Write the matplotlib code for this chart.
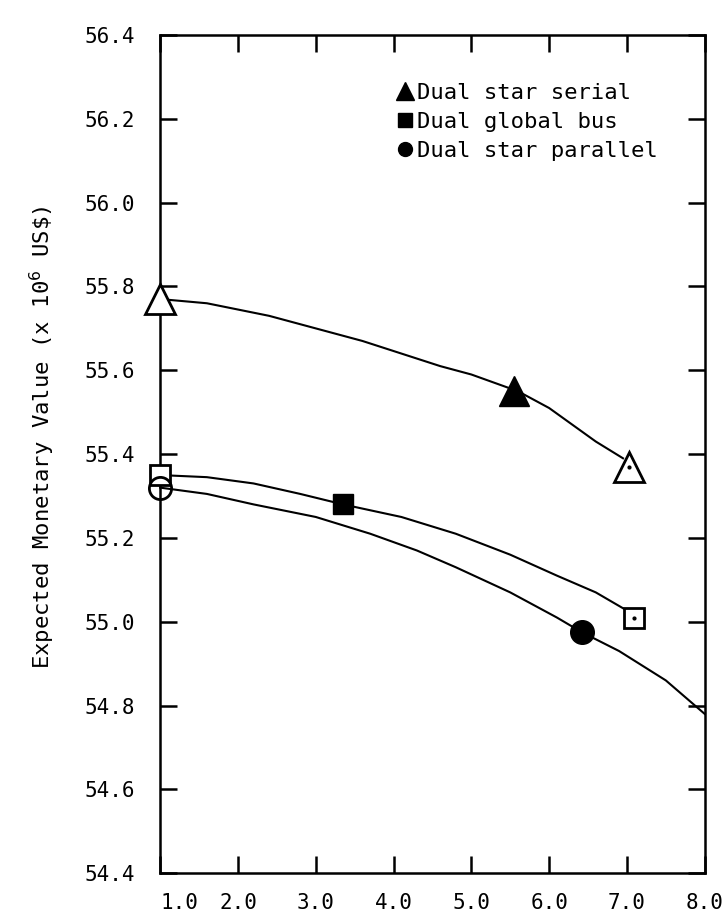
import matplotlib.pyplot as plt
from matplotlib.lines import Line2D

# values
x_ticks = [1.0, 2.0, 3.0, 4.0, 5.0, 6.0, 7.0, 8.0]
x_labels = ["1.0", "2.0", "3.0", "4.0", "5.0", "6.0", "7.0", "8.0"]
y_ticks = [54.4, 54.6, 54.8, 55.0, 55.2, 55.4, 55.6, 55.8, 56.0, 56.2, 56.4]

# smooth curves
serial_curve_x = [1.0, 1.6, 2.4, 3.0, 3.6, 4.1, 4.6, 5.0, 5.6, 6.0, 6.3, 6.6, 6.95]
serial_curve_y = [55.77, 55.76, 55.73, 55.70, 55.67, 55.64, 55.61, 55.59, 55.55, 55.51, 55.47, 55.43, 55.39]
bus_curve_x = [1.0, 1.6, 2.2, 2.8, 3.35, 4.1, 4.8, 5.5, 6.1, 6.6, 6.97]
bus_curve_y = [55.35, 55.345, 55.33, 55.305, 55.28, 55.25, 55.21, 55.16, 55.11, 55.07, 55.03]
parallel_curve_x = [1.0, 1.6, 2.2, 3.0, 3.7, 4.3, 4.8, 5.5, 6.1, 6.42, 6.9, 7.5, 8.0]
parallel_curve_y = [55.32, 55.305, 55.28, 55.25, 55.21, 55.17, 55.13, 55.07, 55.01, 54.975, 54.93, 54.86, 54.78]

# marker points: (x, y) for open / filled / dotted markers
serial_open = (1.0, 55.77)
serial_filled = (5.55, 55.55)
serial_dot = (7.03, 55.37)
bus_open = (1.0, 55.35)
bus_filled = (3.35, 55.28)
bus_dot = (7.09, 55.01)
parallel_open = (1.0, 55.32)
parallel_filled = (6.42, 54.975)

legend_labels = ["Dual star serial", "Dual global bus", "Dual star parallel"]

plt.rcParams['font.family'] = ['DejaVu Sans Mono', 'DejaVu Sans']

fig = plt.figure(figsize=(7.25, 9.23), dpi=100)
ax = fig.add_axes([0.221, 0.054, 0.751, 0.908])

lw = 1.5
ax.plot(serial_curve_x, serial_curve_y, color='black', lw=lw, clip_on=False)
ax.plot(bus_curve_x, bus_curve_y, color='black', lw=lw, clip_on=False)
ax.plot(parallel_curve_x, parallel_curve_y, color='black', lw=lw, clip_on=False)

mk = dict(color='black', clip_on=False, zorder=5, linestyle='none')
# open markers on the left spine
ax.plot(*serial_open, marker='^', ms=22, mfc='white', mew=2, **mk)
ax.plot(*bus_open, marker='s', ms=15, mfc='white', mew=2, **mk)
ax.plot(*parallel_open, marker='o', ms=16, mfc='none', mew=2, **mk)
# filled markers
ax.plot(*serial_filled, marker='^', ms=22, mfc='black', **mk)
ax.plot(*bus_filled, marker='s', ms=15, mfc='black', **mk)
ax.plot(*parallel_filled, marker='o', ms=17, mfc='black', **mk)
# open markers with a dot in the middle
ax.plot(*serial_dot, marker='^', ms=22, mfc='white', mew=2, **mk)
ax.plot(*serial_dot, marker='.', ms=4, **mk)
ax.plot(*bus_dot, marker='s', ms=15, mfc='white', mew=2, **mk)
ax.plot(*bus_dot, marker='.', ms=4, **mk)

ax.set_xlim(1.0, 8.0)
ax.set_ylim(54.4, 56.4)
ax.set_xticks(x_ticks)
ax.set_xticklabels(x_labels)
ax.get_xticklabels()[0].set_ha('left')
ax.set_yticks(y_ticks)
ax.set_yticklabels([f"{v:.1f}" for v in y_ticks])
ax.tick_params(direction='in', length=12, width=1.8, top=True, right=True,
               labelsize=15)
ax.tick_params(axis='y', pad=18)
ax.tick_params(axis='x', pad=14)
for s in ax.spines.values():
    s.set_linewidth(1.8)

ax.set_ylabel(r"Expected Monetary Value (x 10$^{6}$ US\$)", fontsize=16)
ax.yaxis.set_label_coords(-0.19, 0.52)

handles = [
    Line2D([], [], marker='^', color='black', ls='none', ms=13),
    Line2D([], [], marker='s', color='black', ls='none', ms=10),
    Line2D([], [], marker='o', color='black', ls='none', ms=10),
]
ax.legend(handles, legend_labels, loc='upper left', bbox_to_anchor=(0.43, 0.943),
          frameon=False, fontsize=16, handletextpad=0.0, handlelength=1.0,
          labelspacing=0.4, borderaxespad=0, borderpad=0)

fig.savefig("out.png", dpi=100)
